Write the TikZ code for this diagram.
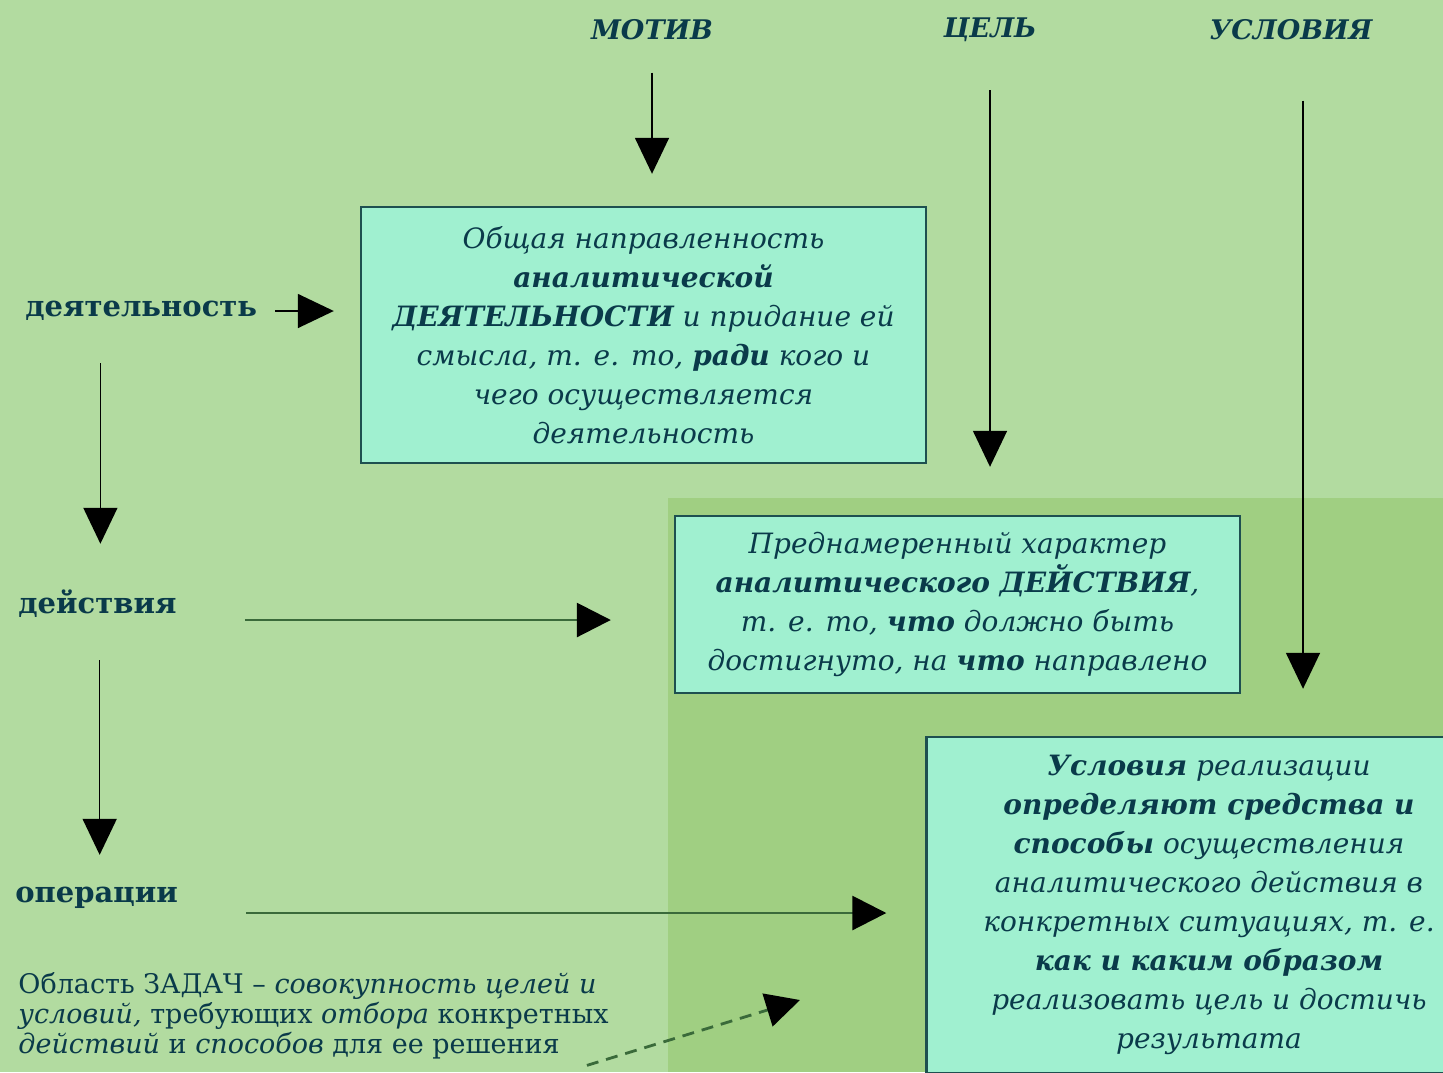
\documentclass[tikz,border=0pt]{standalone}
\usepackage{fontspec}
\setmainfont{DejaVu Serif}
\usetikzlibrary{arrows.meta}

\definecolor{bglight}{RGB}{178,219,160}
\definecolor{bgdark}{RGB}{160,207,130}
\definecolor{boxfill}{RGB}{160,240,208}
\definecolor{boxline}{RGB}{30,80,80}
\definecolor{txt}{RGB}{10,58,74}
\definecolor{lineg}{RGB}{58,106,58}

\begin{document}
\begin{tikzpicture}[
    x=0.5pt, y=-0.5pt,
    box/.style={draw=boxline, fill=boxfill, line width=1.2pt, text=txt,
                align=center, inner sep=0pt, minimum width=282.5pt,
                font=\fontsize{14}{19.5}\selectfont\itshape},
    lbl/.style={text=txt, inner sep=0pt,
                font=\fontsize{14.5}{17}\selectfont\bfseries},
    toplbl/.style={text=txt, inner sep=0pt,
                font=\fontsize{13.5}{16}\selectfont\bfseries\itshape},
    arr/.style={-{Triangle[length=18pt, width=17pt]}, line width=0.8pt, black},
    arrg/.style={-{Triangle[length=17pt, width=17pt, color=black]},
                 line width=1.4pt, draw=lineg},
    dsharr/.style={arrg, dash pattern=on 6pt off 4pt},
  ]
  \useasboundingbox (0,0) rectangle (1443,1072);
  % --- background ---
  \fill[bglight] (0,0) rectangle (1443,1072);
  \fill[bgdark] (668,498) rectangle (1443,1072);

  % --- top labels ---
  \node[toplbl] (motiv) at (652,30) {МОТИВ};
  \node[toplbl] (cel) at (990,30) {ЦЕЛЬ};
  \node[toplbl] (usl) at (1291,30) {УСЛОВИЯ};

  % --- left labels ---
  \node[lbl, anchor=west] (dejat) at (25,311) {деятельность};
  \node[lbl, anchor=west] (dejstv) at (18,604) {действия};
  \node[lbl, anchor=west] (oper) at (15,898) {операции};

  % --- boxes ---
  \node[box, minimum height=128pt] (box1) at (643.5,335)
    {Общая направленность\\
     \textbf{аналитической}\\
     \textbf{ДЕЯТЕЛЬНОСТИ} и придание ей\\
     смысла, т. е. то, \textbf{ради} кого и\\
     чего осуществляется\\
     деятельность};
  \node[box, minimum height=88.5pt] (box2) at (957.5,604.5)
    {Преднамеренный характер\\
     \textbf{аналитического ДЕЙСТВИЯ},\\
     т. е. то, \textbf{что} должно быть\\
     достигнуто, на \textbf{что} направлено};
  \node[box, minimum height=168pt] (box3) at (1209,905)
    {\textbf{Условия} реализации\\
     \textbf{определяют средства и}\\
     \textbf{способы} осуществления\\
     аналитического действия в\\
     конкретных ситуациях, т. е.\\
     \textbf{как и каким образом}\\
     реализовать цель и достичь\\
     результата};

  % --- task area text ---
  \node[text=txt, anchor=north west, align=left, inner sep=0pt,
        font=\fontsize{13.5}{15}\selectfont] (zad) at (18,972)
    {Область ЗАДАЧ – \textit{совокупность целей и}\\
     \textit{условий,} требующих \textit{отбора} конкретных\\
     \textit{действий} и \textit{способов} для ее решения};

  % --- top arrows ---
  \draw[arr, shorten <=16pt, shorten >=16pt]
    (motiv.south) -- (motiv.south |- box1.north);
  \draw[arr, shorten <=24pt, shorten >=24pt]
    (cel.south) -- (cel.south |- box2.north);
  \draw[arr, shorten <=30pt, shorten >=23.5pt]
    ([xshift=6pt]usl.south) -- ([xshift=6pt]usl.south |- box3.north);

  % --- left chain ---
  \draw[arr, shorten <=9pt, shorten >=13pt]
    (dejat.east) -- (dejat.east -| box1.west);
  \draw[arr, shorten <=21pt, shorten >=23pt]
    ([xshift=1.5pt]dejstv.north |- dejat.south) -- ([xshift=1.5pt]dejstv.north);
  \draw[arr, shorten <=21pt, shorten >=16pt]
    ([xshift=1.5pt]oper.north |- dejstv.south) -- ([xshift=1.5pt]oper.north);
  \draw[arrg, shorten <=34pt, shorten >=31.5pt]
    ([yshift=-8pt]dejstv.east) -- ([yshift=-8pt]dejstv.east -| box2.west);
  \draw[arrg, shorten <=34pt, shorten >=19.5pt]
    ([yshift=-7.5pt]oper.east) -- ([yshift=-7.5pt]oper.east -| box3.west);

  % --- dashed hint ---
  \coordinate (dtip) at (800,1000);
  \draw[dsharr] ([xshift=-11pt, yshift=-3pt]zad.south east) -- (dtip);
\end{tikzpicture}
\end{document}
